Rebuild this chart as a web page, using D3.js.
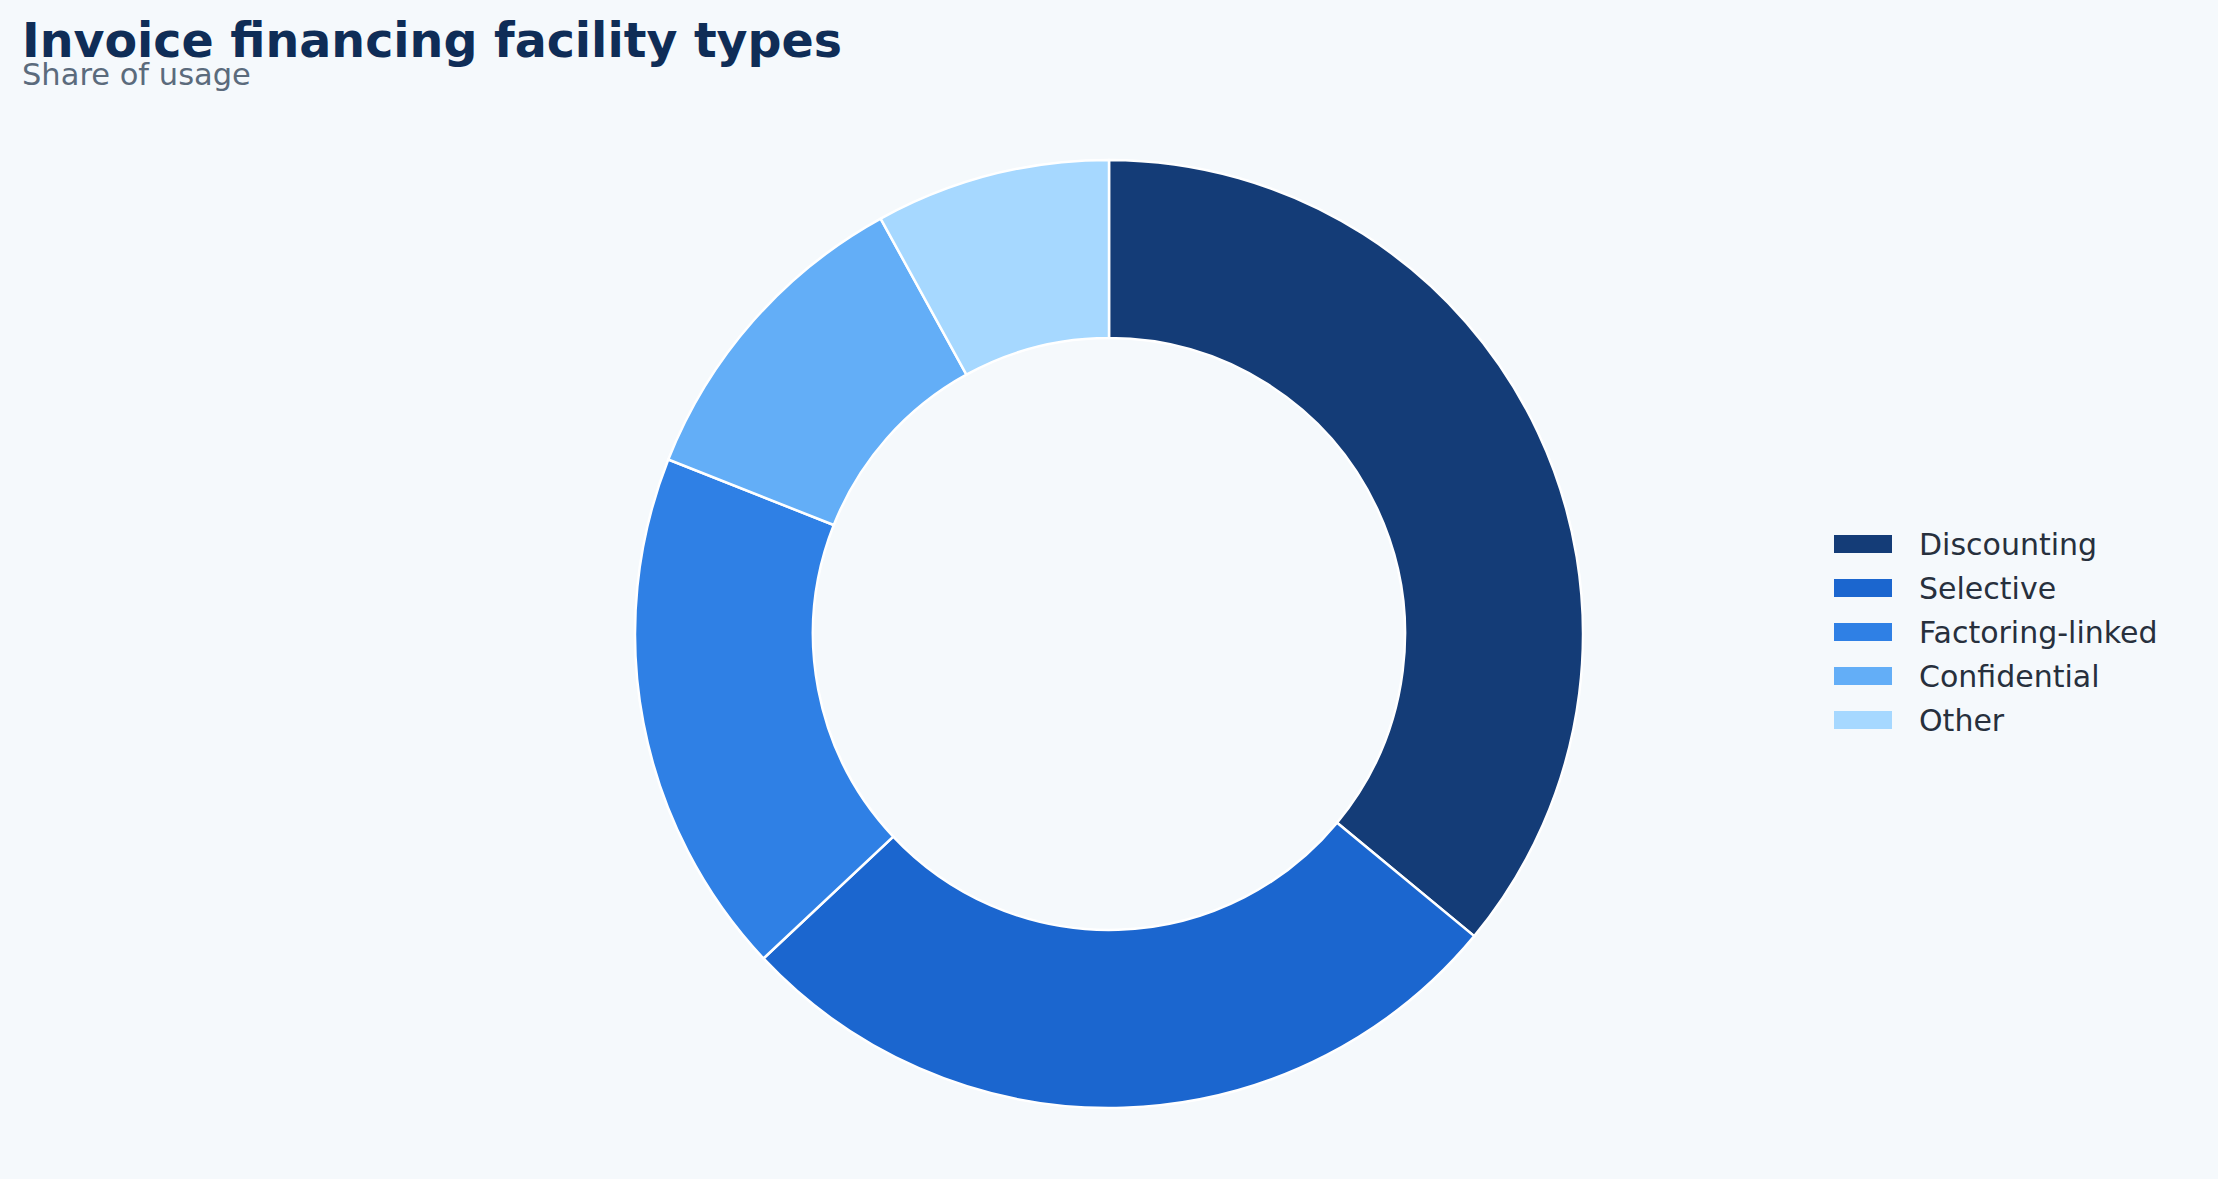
<!DOCTYPE html>
<html>
<head>
<meta charset="utf-8">
<script src="https://cdn.jsdelivr.net/npm/d3@7"></script>
<style>
  html, body { margin: 0; padding: 0; background: #f5f9fc; }
  svg { display: block; }
</style>
</head>
<body>
<script>
const categories = ["Discounting", "Selective", "Factoring-linked", "Confidential", "Other"];
const shares = [36, 27, 18, 11, 8];
const colors = ["#143c77", "#1b66cf", "#2f80e5", "#63aef7", "#a6d8ff"];

const W = 2218, H = 1179;
const svg = d3.select("body").append("svg").attr("width", W).attr("height", H);
svg.append("rect").attr("width", W).attr("height", H).attr("fill", "#f5f9fc");

svg.append("text").attr("x", 22).attr("y", 57)
  .attr("font-family", "DejaVu Sans").attr("font-weight", "bold")
  .attr("font-size", 47.5).attr("fill", "#0f2d57")
  .text("Invoice financing facility types");
svg.append("text").attr("x", 22).attr("y", 85)
  .attr("font-family", "DejaVu Sans").attr("font-size", 30.5).attr("fill", "#5b6b7c")
  .text("Share of usage");

const data = categories.map((c, i) => ({ name: c, value: shares[i], color: colors[i] }));
const pie = d3.pie().value(d => d.value).sort(null);
const arc = d3.arc().innerRadius(296).outerRadius(474);

const g = svg.append("g").attr("transform", "translate(1109,634)");
g.selectAll("path").data(pie(data)).join("path")
  .attr("d", arc)
  .attr("fill", d => d.data.color)
  .attr("stroke", "#ffffff")
  .attr("stroke-width", 2.5);

const legend = svg.append("g").attr("transform", "translate(1834,535)");
const rows = legend.selectAll("g").data(data).join("g")
  .attr("transform", (d, i) => `translate(0,${i * 44})`);
rows.append("rect").attr("width", 58).attr("height", 18).attr("fill", d => d.color);
rows.append("text").attr("x", 85).attr("y", 20)
  .attr("font-family", "DejaVu Sans").attr("font-size", 30).attr("fill", "#27303d")
  .text(d => d.name);
</script>
</body>
</html>
